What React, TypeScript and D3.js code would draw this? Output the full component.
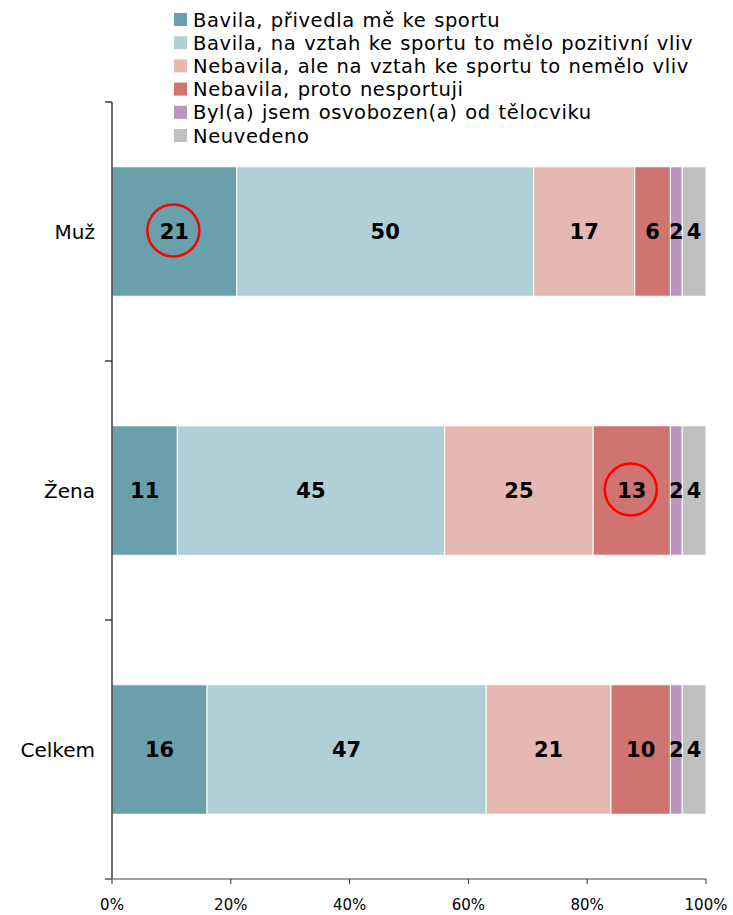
import React from 'react';
import * as d3 from 'd3';

const categories = ['Muž', 'Žena', 'Celkem'];

const seriesNames = [
    'Bavila, přivedla mě ke sportu',
    'Bavila, na vztah ke sportu to mělo pozitivní vliv',
    'Nebavila, ale na vztah ke sportu to nemělo vliv',
    'Nebavila, proto nesportuji',
    'Byl(a) jsem osvobozen(a) od tělocviku',
    'Neuvedeno'
];

const seriesColors = ['#6a9fac', '#b0cfd6', '#e6b8b2', '#cf7470', '#b797c0', '#c0c0c0'];

// values per category, in series order
const muz = [21, 50, 17, 6, 2, 4];
const zena = [11, 45, 25, 13, 2, 4];
const celkem = [16, 47, 21, 10, 2, 4];

const xTicks = [0, 20, 40, 60, 80, 100];

// highlighted labels: [category index, series index]
const highlights = [[0, 0], [1, 3]];

const width = 733;
const height = 915;
const fontFamily = '"DejaVu Sans", Verdana, sans-serif';

const App = () => {
    const rows = [muz, zena, celkem];

    const x = d3.scaleLinear().domain([0, 100]).range([112, 706]);
    const y = d3.scaleBand()
        .domain(categories)
        .range([102, 879])
        .paddingInner(0.5)
        .paddingOuter(0.25);

    const step = y.step();
    const bounds = [0, 1, 2, 3].map(i => 102 + i * step);

    // stacked segments
    const stacked = rows.map((vals, ci) => {
        let acc = 0;
        return vals.map((v, si) => {
            const seg = { ci, si, x0: acc, x1: acc + v, value: v };
            acc += v;
            return seg;
        });
    });

    return (
        <div style={{ position: 'absolute', left: 0, top: 0 }}>
            <svg width={width} height={height} style={{ display: 'block', background: '#fff' }}>
                {/* legend */}
                <g>
                    {seriesNames.map((name, i) => (
                        <g key={name} transform={`translate(174, ${13 + i * 23.2})`}>
                            <rect width={13} height={13} fill={seriesColors[i]} />
                            <text x={19} y={13.5} fontSize={19.5} letterSpacing={0.6} wordSpacing={1} fontFamily={fontFamily} fill="#000">{name}</text>
                        </g>
                    ))}
                </g>

                {/* bars */}
                {stacked.map((segs, ci) => (
                    <g key={categories[ci]}>
                        {segs.map(s => (
                            <rect
                                key={s.si}
                                x={x(s.x0)}
                                y={y(categories[ci])}
                                width={x(s.x1) - x(s.x0)}
                                height={y.bandwidth()}
                                fill={seriesColors[s.si]}
                                stroke="#fff"
                                strokeWidth={1}
                            />
                        ))}
                        {segs.map(s => (
                            <text
                                key={'t' + s.si}
                                x={(x(s.x0) + x(s.x1)) / 2}
                                y={y(categories[ci]) + y.bandwidth() / 2}
                                dy="0.36em"
                                textAnchor="middle"
                                fontSize={21}
                                fontWeight="bold"
                                fontFamily={fontFamily}
                                fill="#000"
                            >
                                {s.value}
                            </text>
                        ))}
                    </g>
                ))}

                {/* highlight circles */}
                {highlights.map(([ci, si]) => {
                    const s = stacked[ci][si];
                    return (
                        <circle
                            key={`${ci}-${si}`}
                            cx={(x(s.x0) + x(s.x1)) / 2 - 1}
                            cy={y(categories[ci]) + y.bandwidth() / 2 - 1}
                            r={26}
                            fill="none"
                            stroke="#ff0000"
                            strokeWidth={2.5}
                        />
                    );
                })}

                {/* y axis */}
                <line x1={112} x2={112} y1={102} y2={879} stroke="#222" strokeWidth={1.3} />
                {bounds.map(b => (
                    <line key={b} x1={105} x2={112} y1={b} y2={b} stroke="#222" strokeWidth={1.3} />
                ))}
                {categories.map(c => (
                    <text
                        key={c}
                        x={95}
                        y={y(c) + y.bandwidth() / 2}
                        dy="0.36em"
                        textAnchor="end"
                        fontSize={20}
                        fontFamily={fontFamily}
                        fill="#000"
                    >
                        {c}
                    </text>
                ))}

                {/* x axis */}
                <line x1={105} x2={706} y1={879} y2={879} stroke="#808080" strokeWidth={1.3} />
                {xTicks.map(t => (
                    <g key={t}>
                        <line x1={x(t)} x2={x(t)} y1={879} y2={884} stroke="#333" strokeWidth={1} />
                        <text
                            x={x(t)}
                            y={910}
                            textAnchor="middle"
                            fontSize={15}
                            fontFamily={fontFamily}
                            fill="#000"
                        >
                            {t}%
                        </text>
                    </g>
                ))}
            </svg>
        </div>
    );
};

export default App;
